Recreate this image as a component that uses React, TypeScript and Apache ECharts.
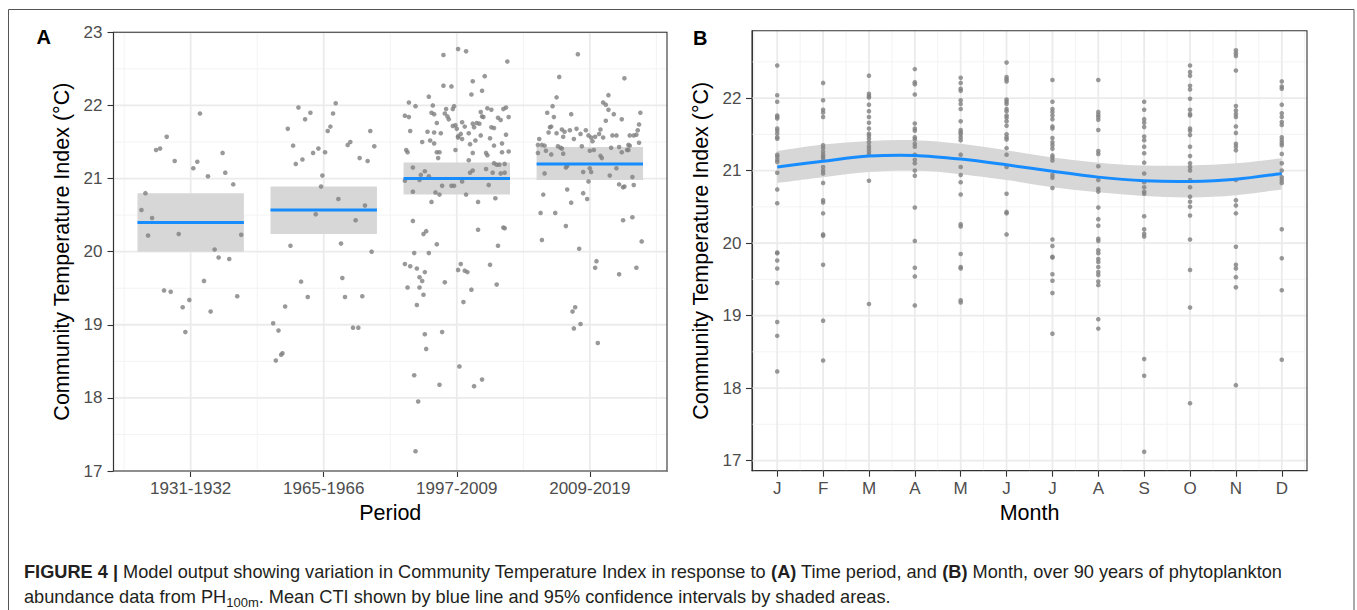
import React, { useEffect, useRef } from 'react';
import * as echarts from 'echarts';

const FONT = 'Liberation Sans, Arial, Helvetica, sans-serif';

// ---------- Panel A : Period ----------
const periodLabels = ['1931-1932', '1965-1966', '1997-2009', '2009-2019'];
const periodTicks = [1, 2, 3, 4];
const periodMinor = [0.5, 1.5, 2.5, 3.5, 4.5];
const yMajorA = [17, 18, 19, 20, 21, 22, 23];
const yMinorA = [17.5, 18.5, 19.5, 20.5, 21.5, 22.5];

const period1931 = [[0.63,20.57],[0.66,20.80],[0.71,20.46],[0.68,20.22],[0.74,21.39],[0.77,21.41],[0.82,21.57],[0.88,21.24],[0.91,20.24],[0.80,19.47],[0.85,19.45],[0.94,19.24],[0.96,18.90],[0.99,19.34],[1.02,21.14],[1.05,21.23],[1.07,21.89],[1.10,19.60],[1.13,21.03],[1.15,19.18],[1.18,20.03],[1.21,19.92],[1.24,21.35],[1.26,21.08],[1.29,19.90],[1.32,20.92],[1.35,19.39],[1.38,20.23]];
const period1965 = [[1.62,19.02],[1.66,18.92],[1.64,18.51],[1.68,18.59],[1.69,18.61],[1.71,19.25],[1.73,21.68],[1.75,20.08],[1.77,21.45],[1.79,21.20],[1.81,21.97],[1.83,19.59],[1.84,21.26],[1.86,21.81],[1.88,19.38],[1.90,21.90],[1.92,21.35],[1.94,20.51],[1.96,21.41],[1.98,20.89],[1.99,21.04],[2.01,21.36],[2.03,21.65],[2.05,21.71],[2.07,21.89],[2.09,22.03],[2.11,20.72],[2.13,20.11],[2.14,19.64],[2.16,19.38],[2.18,21.46],[2.20,21.50],[2.22,18.96],[2.24,20.43],[2.26,18.96],[2.27,21.28],[2.29,19.39],[2.31,20.63],[2.33,21.24],[2.35,21.65],[2.36,20.00],[2.38,21.44]];
const period1997 = [[2.90,22.69],[3.01,22.77],[3.07,22.74],[3.38,22.60],[3.21,22.40],[3.12,22.33],[3.19,22.20],[3.11,22.15],[2.90,22.27],[2.96,22.26],[2.79,22.12],[2.64,22.04],[2.69,21.99],[2.82,22.00],[2.98,21.99],[2.92,21.95],[2.97,21.95],[2.91,21.89],[2.93,21.85],[2.94,21.81],[2.83,21.88],[2.81,21.90],[2.61,21.86],[2.64,21.84],[3.18,21.91],[3.23,21.96],[3.26,21.94],[3.20,21.84],[3.19,21.85],[3.35,21.95],[3.37,21.97],[3.31,21.83],[3.39,21.84],[3.33,21.80],[2.85,21.76],[2.97,21.72],[2.99,21.73],[3.04,21.77],[3.06,21.71],[3.12,21.75],[3.15,21.76],[3.17,21.75],[3.13,21.70],[3.00,21.68],[3.26,21.70],[3.28,21.69],[2.65,21.65],[2.78,21.64],[2.83,21.63],[2.88,21.62],[3.09,21.62],[3.03,21.61],[3.37,21.60],[3.18,21.59],[3.01,21.58],[3.01,21.56],[3.04,21.54],[2.74,21.50],[2.80,21.52],[3.25,21.55],[3.14,21.52],[3.10,21.47],[2.83,21.48],[3.34,21.48],[3.28,21.45],[2.62,21.39],[2.63,21.36],[2.85,21.36],[2.87,21.36],[2.99,21.39],[3.12,21.35],[3.22,21.35],[3.23,21.32],[3.34,21.36],[3.39,21.37],[2.86,21.28],[3.09,21.25],[3.28,21.21],[3.30,21.19],[3.32,21.19],[3.36,21.20],[2.67,21.15],[3.22,21.13],[3.12,21.11],[3.27,21.08],[3.10,21.08],[3.33,21.07],[2.76,21.10],[2.73,21.05],[2.79,21.03],[3.36,21.08],[2.61,20.97],[2.72,20.98],[3.04,20.96],[3.24,20.91],[2.89,20.90],[2.96,20.90],[2.98,20.90],[2.67,20.82],[2.84,20.81],[2.87,20.78],[3.07,20.78],[3.29,20.73],[2.81,20.68],[3.16,20.68],[2.67,20.42],[2.77,20.28],[2.75,20.24],[3.16,20.30],[3.35,20.33],[3.36,20.32],[2.85,20.10],[3.31,20.08],[2.68,19.98],[2.79,19.98],[2.61,19.83],[2.65,19.80],[2.70,19.77],[2.76,19.72],[2.72,19.65],[2.74,19.60],[3.03,19.83],[3.01,19.75],[3.06,19.74],[3.08,19.72],[3.25,19.82],[2.91,19.58],[2.63,19.51],[2.72,19.51],[3.11,19.48],[3.30,19.55],[2.75,19.41],[2.70,19.27],[3.05,19.31],[2.76,18.87],[2.89,18.90],[2.77,18.67],[2.68,18.31],[3.02,18.43],[2.87,18.18],[3.13,18.16],[3.19,18.25],[2.71,17.95],[2.69,17.27]];
const period2009 = [[3.91,22.70],[3.77,22.39],[4.26,22.37],[3.75,22.11],[4.14,22.14],[4.10,22.04],[4.12,22.01],[3.72,21.99],[3.68,21.90],[4.14,21.94],[4.18,21.88],[4.38,21.90],[3.86,21.88],[3.73,21.84],[4.24,21.81],[4.12,21.79],[4.37,21.74],[3.70,21.70],[3.71,21.71],[3.79,21.67],[3.90,21.68],[3.81,21.64],[3.85,21.66],[3.97,21.66],[4.08,21.67],[3.69,21.63],[3.75,21.62],[3.99,21.59],[4.07,21.61],[4.36,21.66],[4.17,21.59],[4.20,21.59],[4.30,21.59],[4.33,21.59],[4.35,21.60],[3.62,21.54],[3.80,21.57],[3.93,21.61],[3.88,21.54],[4.01,21.56],[4.04,21.57],[4.10,21.56],[3.61,21.46],[3.64,21.46],[3.66,21.45],[3.76,21.44],[3.78,21.42],[3.79,21.41],[3.94,21.44],[4.02,21.51],[4.16,21.42],[4.22,21.43],[4.29,21.46],[4.30,21.45],[4.37,21.49],[3.67,21.38],[3.71,21.33],[3.80,21.34],[4.00,21.38],[4.03,21.39],[4.08,21.31],[4.09,21.28],[4.24,21.36],[4.28,21.39],[3.61,21.35],[4.29,21.39],[3.82,21.15],[3.83,21.17],[4.00,21.14],[4.20,21.14],[3.66,21.07],[3.95,21.09],[4.01,21.09],[4.15,21.04],[3.99,20.96],[4.22,20.92],[4.25,20.88],[4.26,20.89],[4.33,20.91],[4.32,21.02],[3.83,20.85],[3.65,20.78],[3.95,20.80],[3.98,20.72],[3.86,20.67],[3.63,20.53],[3.74,20.53],[4.25,20.43],[4.32,20.47],[3.82,20.35],[3.64,20.16],[4.39,20.14],[3.92,20.04],[4.05,19.87],[4.04,19.78],[4.35,19.78],[4.22,19.69],[3.89,19.24],[3.87,19.18],[3.93,19.01],[3.88,18.95],[4.06,18.75]];

const periodMean = [20.40, 20.57, 21.00, 21.20];
const periodLow = [20.00, 20.24, 20.78, 20.98];
const periodHigh = [20.80, 20.89, 21.22, 21.43];

// ---------- Panel B : Month ----------
const monthLabels = ['J', 'F', 'M', 'A', 'M', 'J', 'J', 'A', 'S', 'O', 'N', 'D'];
const monthTicks = [1, 2, 3, 4, 5, 6, 7, 8, 9, 10, 11, 12];
const monthMinor = [0.5, 1.5, 2.5, 3.5, 4.5, 5.5, 6.5, 7.5, 8.5, 9.5, 10.5, 11.5, 12.5];
const yMajorB = [17, 18, 19, 20, 21, 22];
const yMinorB = [17.5, 18.5, 19.5, 20.5, 21.5, 22.5];

const ctiJan = [22.45,22.04,21.95,21.76,21.74,21.72,21.58,21.55,21.51,21.46,21.44,21.22,21.19,21.15,21.12,20.97,20.74,20.55,19.87,19.86,19.76,19.65,19.45,18.91,18.72,18.23];
const ctiFeb = [22.21,21.97,21.84,21.80,21.74,21.35,21.31,21.26,21.22,21.19,21.16,21.05,21.00,20.96,20.83,20.59,20.56,20.41,20.12,20.10,19.70,18.93,18.38];
const ctiMar = [22.31,22.06,22.03,22.01,21.91,21.82,21.74,21.66,21.58,21.51,21.48,21.44,21.39,21.34,21.30,21.26,21.22,20.86,19.16];
const ctiApr = [22.40,22.22,22.19,22.05,21.65,21.58,21.55,21.46,21.43,21.37,21.33,21.22,21.15,21.10,21.00,20.93,20.49,20.03,19.66,19.54,19.14];
const ctiMay = [22.28,22.21,22.13,22.10,21.97,21.92,21.85,21.68,21.56,21.53,21.50,21.46,21.42,21.22,21.05,20.94,20.84,20.67,20.26,20.23,19.85,19.67,19.65,19.21,19.18];
const ctiJun = [22.49,22.29,22.26,22.23,21.98,21.95,21.92,21.85,21.82,21.76,21.73,21.68,21.62,21.50,21.46,21.43,21.31,21.22,21.05,20.68,20.43,20.41,20.12];
const ctiJul = [22.25,21.95,21.85,21.81,21.76,21.71,21.61,21.58,21.45,21.39,21.35,21.30,21.21,21.18,21.14,20.94,20.90,20.76,20.05,19.96,19.81,19.80,19.57,19.48,19.31,18.75];
const ctiAug = [22.25,21.81,21.77,21.74,21.70,21.56,21.27,21.23,21.06,20.87,20.75,20.71,20.49,20.33,20.24,20.06,20.03,19.90,19.86,19.78,19.74,19.67,19.60,19.56,19.47,19.42,18.95,18.82];
const ctiSep = [21.95,21.84,21.71,21.66,21.60,21.47,21.42,21.33,21.24,21.11,20.96,20.84,20.77,20.71,20.68,20.37,20.19,20.13,20.09,18.40,18.17,17.12];
const ctiOct = [22.45,22.36,22.31,22.17,22.12,21.99,21.84,21.78,21.76,21.58,21.55,21.49,21.33,21.20,21.10,21.05,21.00,20.87,20.77,20.64,20.57,20.50,20.38,20.05,19.63,19.11,17.79];
const ctiNov = [22.66,22.62,22.58,22.38,21.89,21.83,21.78,21.74,21.61,21.52,21.37,21.33,21.28,20.87,20.59,20.52,20.41,19.95,19.70,19.65,19.53,19.39,18.04];
const ctiDec = [22.23,22.16,22.13,21.91,21.79,21.74,21.67,21.63,21.46,21.42,21.38,21.35,21.23,21.10,21.00,20.91,20.87,20.83,20.19,19.79,19.35,18.39];

const smoothMean = [21.05, 21.13, 21.20, 21.21, 21.16, 21.08, 20.99, 20.91, 20.86, 20.85, 20.88, 20.96];
const smoothLow = [20.83, 20.91, 20.98, 21.00, 20.95, 20.87, 20.77, 20.70, 20.65, 20.63, 20.66, 20.74];
const smoothHigh = [21.27, 21.36, 21.41, 21.42, 21.37, 21.28, 21.18, 21.11, 21.07, 21.07, 21.10, 21.17];

// ---------- helpers ----------
const AXIS_COLOR = '#333333';
const LABEL_COLOR = '#4D4D4D';
const POINT_COLOR = '#7F7F7F';
const BLUE = '#178CFF';
const BAND = '#D7D7D7';
const CAPTION_SIZE = 18.2;

function spline(pts: number[][]): string {
  let d = '';
  for (let i = 0; i < pts.length - 1; i++) {
    const p0 = pts[i - 1] || pts[i];
    const p1 = pts[i];
    const p2 = pts[i + 1];
    const p3 = pts[i + 2] || p2;
    const c1x = p1[0] + (p2[0] - p0[0]) / 6;
    const c1y = p1[1] + (p2[1] - p0[1]) / 6;
    const c2x = p2[0] - (p3[0] - p1[0]) / 6;
    const c2y = p2[1] - (p3[1] - p1[1]) / 6;
    d += ` C ${c1x} ${c1y} ${c2x} ${c2y} ${p2[0]} ${p2[1]}`;
  }
  return d;
}

function gridLineItems(xMajor: number[], xMinor: number[], yMajor: number[], yMinor: number[]) {
  return [
    ...xMinor.map((v) => [0, v, 0]),
    ...yMinor.map((v) => [1, v, 0]),
    ...xMajor.map((v) => [0, v, 1]),
    ...yMajor.map((v) => [1, v, 1]),
  ];
}

function makeGridRender(xRef: number, yRef: number) {
  return (params: any, api: any) => {
    const cs = params.coordSys;
    const orient = api.value(0);
    const v = api.value(1);
    const major = api.value(2) === 1;
    const style = { stroke: major ? '#EBEBEB' : '#F3F3F3', lineWidth: major ? 1.8 : 1 };
    if (orient === 0) {
      const x = api.coord([v, yRef])[0];
      return { type: 'line', silent: true, shape: { x1: x, y1: cs.y, x2: x, y2: cs.y + cs.height }, style };
    }
    const y = api.coord([xRef, v])[1];
    return { type: 'line', silent: true, shape: { x1: cs.x, y1: y, x2: cs.x + cs.width, y2: y }, style };
  };
}

function axisBase(gridIndex: number) {
  return {
    gridIndex,
    type: 'value',
    splitLine: { show: false },
    axisLine: { show: true, onZero: false, lineStyle: { color: AXIS_COLOR, width: 1.1 } },
    axisTick: { show: true, length: 6, lineStyle: { color: AXIS_COLOR, width: 1.1 } },
    nameTextStyle: { color: '#000', fontSize: 21.5, fontFamily: FONT },
  };
}

export default function App() {
  const ref = useRef<HTMLDivElement>(null);

  useEffect(() => {
    if (!ref.current) return;
    const chart = echarts.init(ref.current, null, { renderer: 'svg' });

    const pointsA = [...period1931, ...period1965, ...period1997, ...period2009];
    const monthSets = [ctiJan, ctiFeb, ctiMar, ctiApr, ctiMay, ctiJun, ctiJul, ctiAug, ctiSep, ctiOct, ctiNov, ctiDec];
    const pointsB: number[][] = [];
    monthSets.forEach((vals, i) => vals.forEach((v) => pointsB.push([i + 1, v])));

    const capStyle = { fontSize: CAPTION_SIZE, fontFamily: FONT, fill: '#231F20', lineHeight: 23 };

    const option: any = {
      animation: false,
      backgroundColor: '#fff',
      textStyle: { fontFamily: FONT },
      grid: [
        { left: 113.5, top: 32.3, width: 553.5, height: 438.7, show: true, z: 10, backgroundColor: 'transparent', borderColor: AXIS_COLOR, borderWidth: 1.1 },
        { left: 752, top: 30.7, width: 555, height: 440, show: true, z: 10, backgroundColor: 'transparent', borderColor: AXIS_COLOR, borderWidth: 1.1 },
      ],
      xAxis: [
        {
          ...axisBase(0),
          min: 0.42,
          max: 4.58,
          axisTick: { show: true, length: 6, customValues: periodTicks, lineStyle: { color: AXIS_COLOR, width: 1.1 } },
          axisLabel: {
            customValues: periodTicks,
            formatter: (v: number) => periodLabels[Math.round(v) - 1] || '',
            color: LABEL_COLOR, fontSize: 17, margin: 9, fontFamily: FONT,
          },
          name: 'Period', nameLocation: 'middle', nameGap: 30,
        },
        {
          ...axisBase(1),
          min: 0.45,
          max: 12.55,
          axisTick: { show: true, length: 6, customValues: monthTicks, lineStyle: { color: AXIS_COLOR, width: 1.1 } },
          axisLabel: {
            customValues: monthTicks,
            formatter: (v: number) => monthLabels[Math.round(v) - 1] || '',
            color: LABEL_COLOR, fontSize: 17, margin: 9, fontFamily: FONT,
          },
          name: 'Month', nameLocation: 'middle', nameGap: 30,
        },
      ],
      yAxis: [
        {
          ...axisBase(0),
          min: 17,
          max: 23,
          axisTick: { show: true, length: 6, customValues: yMajorA, lineStyle: { color: AXIS_COLOR, width: 1.1 } },
          axisLabel: { customValues: yMajorA, color: LABEL_COLOR, fontSize: 17, margin: 11, fontFamily: FONT },
          name: 'Community Temperature Index (°C)', nameLocation: 'middle', nameGap: 41,
        },
        {
          ...axisBase(1),
          min: 16.86,
          max: 22.93,
          axisTick: { show: true, length: 6, customValues: yMajorB, lineStyle: { color: AXIS_COLOR, width: 1.1 } },
          axisLabel: { customValues: yMajorB, color: LABEL_COLOR, fontSize: 17, margin: 10.5, fontFamily: FONT },
          name: 'Community Temperature Index (°C)', nameLocation: 'middle', nameGap: 40,
        },
      ],
      series: [
        // Panel A
        {
          type: 'custom', xAxisIndex: 0, yAxisIndex: 0, z: 1, silent: true,
          data: gridLineItems(periodTicks, periodMinor, yMajorA, yMinorA),
          renderItem: makeGridRender(2, 20),
        },
        {
          type: 'custom', xAxisIndex: 0, yAxisIndex: 0, z: 2, silent: true,
          data: periodTicks.map((p, i) => [p, periodLow[i], periodHigh[i]]),
          renderItem: (params: any, api: any) => {
            const a = api.coord([api.value(0) - 0.4, api.value(2)]);
            const b = api.coord([api.value(0) + 0.4, api.value(1)]);
            return { type: 'rect', shape: { x: a[0], y: a[1], width: b[0] - a[0], height: b[1] - a[1] }, style: { fill: BAND } };
          },
        },
        {
          type: 'scatter', xAxisIndex: 0, yAxisIndex: 0, z: 3, silent: true,
          symbolSize: 4.6, itemStyle: { color: POINT_COLOR },
          data: pointsA,
        },
        {
          type: 'custom', xAxisIndex: 0, yAxisIndex: 0, z: 4, silent: true,
          data: periodTicks.map((p, i) => [p, periodMean[i]]),
          renderItem: (params: any, api: any) => {
            const a = api.coord([api.value(0) - 0.4, api.value(1)]);
            const b = api.coord([api.value(0) + 0.4, api.value(1)]);
            return { type: 'line', shape: { x1: a[0], y1: a[1], x2: b[0], y2: b[1] }, style: { stroke: BLUE, lineWidth: 3 } };
          },
        },
        // Panel B
        {
          type: 'custom', xAxisIndex: 1, yAxisIndex: 1, z: 1, silent: true,
          data: gridLineItems(monthTicks, monthMinor, yMajorB, yMinorB),
          renderItem: makeGridRender(6, 20),
        },
        {
          type: 'custom', xAxisIndex: 1, yAxisIndex: 1, z: 2, silent: true,
          data: [[1, smoothMean[0]]],
          renderItem: (params: any, api: any) => {
            const up = monthTicks.map((m, i) => api.coord([m, smoothHigh[i]]));
            const lo = monthTicks.map((m, i) => api.coord([m, smoothLow[i]])).reverse();
            const d = `M ${up[0][0]} ${up[0][1]}` + spline(up) + ` L ${lo[0][0]} ${lo[0][1]}` + spline(lo) + ' Z';
            return { type: 'path', shape: { pathData: d }, style: { fill: BAND } };
          },
        },
        {
          type: 'scatter', xAxisIndex: 1, yAxisIndex: 1, z: 3, silent: true,
          symbolSize: 4.6, itemStyle: { color: POINT_COLOR },
          data: pointsB,
        },
        {
          type: 'custom', xAxisIndex: 1, yAxisIndex: 1, z: 4, silent: true,
          data: [[1, smoothMean[0]]],
          renderItem: (params: any, api: any) => {
            const pts = monthTicks.map((m, i) => api.coord([m, smoothMean[i]]));
            const d = `M ${pts[0][0]} ${pts[0][1]}` + spline(pts);
            return { type: 'path', shape: { pathData: d }, style: { fill: 'none', stroke: BLUE, lineWidth: 3 } };
          },
        },
      ],
      graphic: [
        {
          type: 'rect', silent: true, z: 0,
          shape: { x: 8.5, y: 9.5, width: 1345.5, height: 700 },
          style: { fill: 'none', stroke: '#555', lineWidth: 1 },
        },
        {
          type: 'text', x: 36.5, y: 37.4, silent: true,
          style: { text: 'A', fontSize: 20, fontWeight: 'bold', fontFamily: FONT, fill: '#000', verticalAlign: 'middle' },
        },
        {
          type: 'text', x: 693, y: 38, silent: true,
          style: { text: 'B', fontSize: 20, fontWeight: 'bold', fontFamily: FONT, fill: '#000', verticalAlign: 'middle' },
        },
        {
          type: 'text', x: 24, y: 571.7, silent: true,
          style: {
            text: '{b|FIGURE 4 |}{n| Model output showing variation in Community Temperature Index in response to }{b|(A)}{n| Time period, and }{b|(B)}{n| Month, over 90 years of phytoplankton}',
            verticalAlign: 'middle', fontFamily: FONT, fontSize: CAPTION_SIZE, fill: '#231F20',
            rich: {
              b: { ...capStyle, fontWeight: 'bold' },
              n: { ...capStyle },
            },
          },
        },
        {
          type: 'text', x: 24, y: 597.1, silent: true,
          style: {
            text: '{n|abundance data from PH}{sub|100m}{n|. Mean CTI shown by blue line and 95% confidence intervals by shaded areas.}',
            verticalAlign: 'middle', fontFamily: FONT, fontSize: CAPTION_SIZE, fill: '#231F20',
            rich: {
              n: { ...capStyle },
              sub: { fontSize: 13, fontFamily: FONT, fill: '#231F20', lineHeight: 11, verticalAlign: 'bottom' },
            },
          },
        },
      ],
    };

    chart.setOption(option);
    return () => chart.dispose();
  }, []);

  return <div ref={ref} style={{ position: 'fixed', left: 0, top: 0, width: 1357, height: 610 }} />;
}
